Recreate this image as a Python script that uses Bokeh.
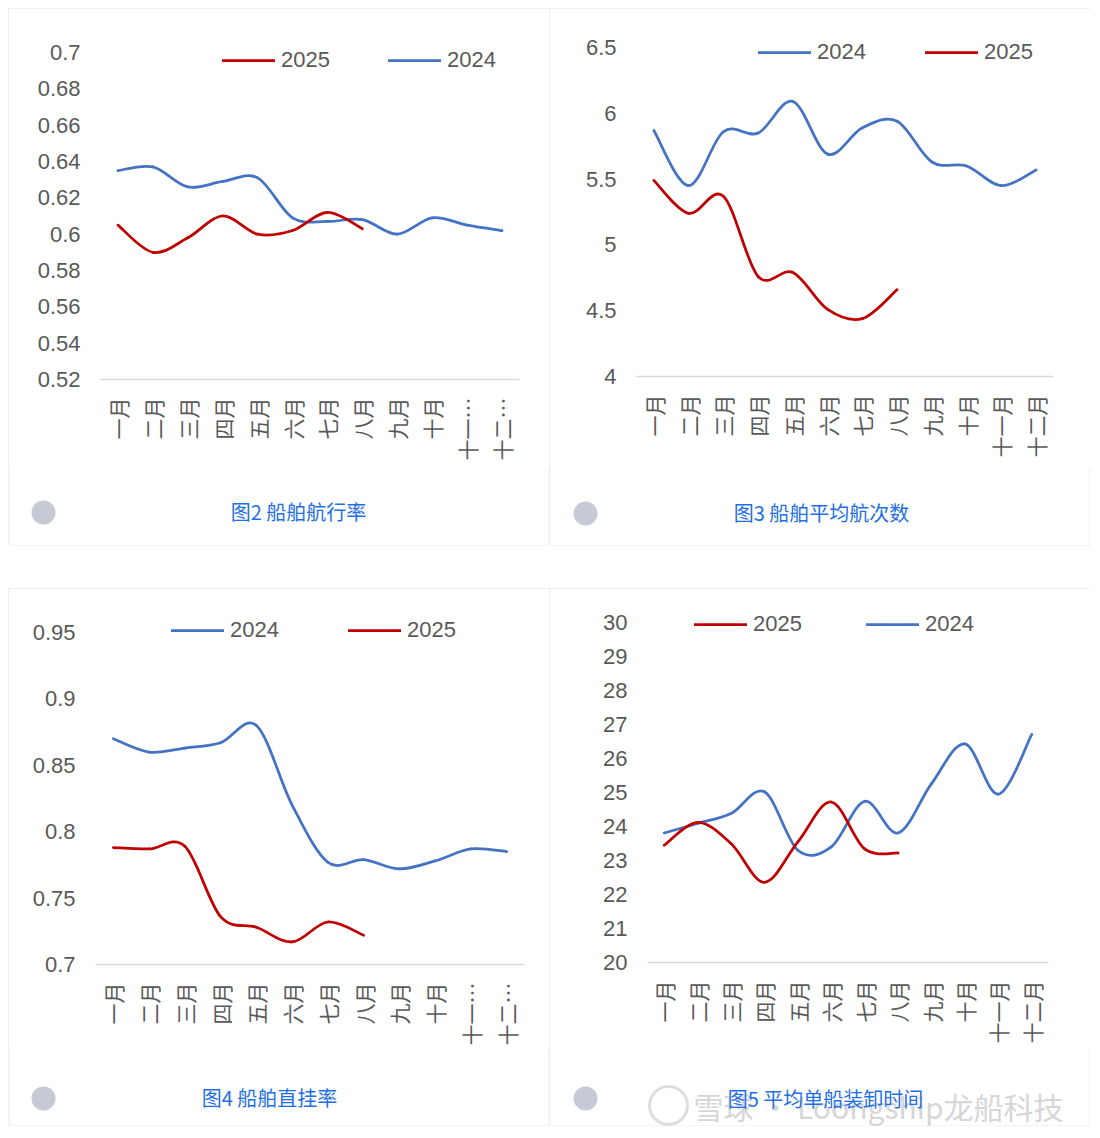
import numpy as np
from bokeh.plotting import figure
from bokeh.models import (Range1d, FixedTicker, NumeralTickFormatter, Legend, LegendItem, Spacer)
from bokeh.layouts import column, row
from bokeh.embed import file_html
from bokeh.resources import INLINE
from bokeh.core.properties import value

# ---------------- data ----------------
months_full = ["一月", "二月", "三月", "四月", "五月", "六月", "七月", "八月",
               "九月", "十月", "十一月", "十二月"]
months_cut = ["一月", "二月", "三月", "四月", "五月", "六月", "七月", "八月",
              "九月", "十月", "十一…", "十二…"]

# 图2 船舶航行率
sail_rate_2024 = [0.635, 0.637, 0.626, 0.629, 0.631, 0.609, 0.607, 0.608, 0.600, 0.609, 0.605, 0.602]
sail_rate_2025 = [0.605, 0.590, 0.598, 0.610, 0.600, 0.602, 0.612, 0.603]
sail_rate_ticks = [0.52, 0.54, 0.56, 0.58, 0.60, 0.62, 0.64, 0.66, 0.68, 0.70]

# 图3 船舶平均航次数
voyages_2024 = [5.87, 5.45, 5.86, 5.85, 6.09, 5.69, 5.89, 5.94, 5.63, 5.60, 5.45, 5.57]
voyages_2025 = [5.49, 5.24, 5.37, 4.76, 4.79, 4.51, 4.44, 4.66]
voyages_ticks = [4.0, 4.5, 5.0, 5.5, 6.0, 6.5]

# 图4 船舶直挂率
direct_2024 = [0.870, 0.860, 0.863, 0.867, 0.880, 0.820, 0.777, 0.779, 0.772, 0.778, 0.787, 0.785]
direct_2025 = [0.788, 0.787, 0.789, 0.736, 0.728, 0.717, 0.732, 0.722]
direct_ticks = [0.70, 0.75, 0.80, 0.85, 0.90, 0.95]

# 图5 平均单船装卸时间
handling_2024 = [23.81, 24.09, 24.38, 25.02, 23.30, 23.40, 24.74, 23.81, 25.26, 26.43, 24.95, 26.71]
handling_2025 = [23.45, 24.12, 23.50, 22.36, 23.55, 24.72, 23.34, 23.22]
handling_ticks = [20, 21, 22, 23, 24, 25, 26, 27, 28, 29, 30]

captions = ["图2 船舶航行率", "图3 船舶平均航次数", "图4 船舶直挂率", "图5 平均单船装卸时间"]
watermark = "雪球 · Loongship龙船科技"

BLUE = "#4472C4"
RED = "#C00000"
GREY_TXT = "#595959"
EDGE = "#e9e9e9"
CJK = "Noto Sans CJK SC"
LAT = "Liberation Sans"

PANEL_W = 541
MAIN_H = 460
CAP_H = 78
TOP_FRAME = 10  # frame top (px) so the legend sits inside the frame


def smooth(vals):
    """Bezier segments (Catmull-Rom style) through the data points."""
    y = np.asarray(vals, dtype=float)
    x = np.arange(len(y), dtype=float)
    xp = np.concatenate([[x[0]], x, [x[-1]]])
    yp = np.concatenate([[y[0]], y, [y[-1]]])
    n = len(y)
    i = np.arange(n - 1)
    cx0 = xp[i + 1] + (xp[i + 2] - xp[i]) / 6.0
    cy0 = yp[i + 1] + (yp[i + 2] - yp[i]) / 6.0
    cx1 = xp[i + 2] - (xp[i + 3] - xp[i + 1]) / 6.0
    cy1 = yp[i + 2] - (yp[i + 3] - yp[i + 1]) / 6.0
    return dict(x0=x[:-1], y0=y[:-1], x1=x[1:], y1=y[1:], cx0=cx0, cy0=cy0, cx1=cx1, cy1=cy1)


def main_fig(labels, ticks, s2024, s2025, order, frame, leg_xy, leg_spacing):
    left, right, top, bottom = frame          # frame edges in figure pixels
    fh = bottom - top
    lo, hi = ticks[0], ticks[-1]
    ext = (top - TOP_FRAME) * (hi - lo) / fh  # extra range above the top tick
    p = figure(width=PANEL_W, height=MAIN_H, x_range=Range1d(-0.5, 11.5),
               y_range=Range1d(lo, hi + ext),
               output_backend="svg", toolbar_location=None, title=None,
               min_border_left=left, min_border_right=PANEL_W - right,
               min_border_top=TOP_FRAME, min_border_bottom=MAIN_H - bottom,
               background_fill_color="white", border_fill_color="white", outline_line_color=None)
    p.grid.visible = False

    xa = p.xaxis[0]
    xa.ticker = FixedTicker(ticks=list(range(12)))
    xa.major_label_overrides = {i: lab for i, lab in enumerate(labels)}
    xa.major_label_orientation = np.pi / 2
    xa.axis_line_color = "#d9d9d9"
    xa.axis_line_width = 1.5
    xa.major_tick_line_color = None
    xa.minor_tick_line_color = None
    xa.major_tick_out = 0
    xa.major_label_standoff = 18
    xa.major_label_text_font = CJK
    xa.major_label_text_font_size = "21px"
    xa.major_label_text_color = GREY_TXT

    ya = p.yaxis[0]
    ya.ticker = FixedTicker(ticks=ticks)
    ya.formatter = NumeralTickFormatter(format="0.[00]")
    ya.axis_line_color = None
    ya.major_tick_line_color = None
    ya.minor_tick_line_color = None
    ya.major_tick_out = 0
    ya.major_label_standoff = 20
    ya.major_label_text_font = LAT
    ya.major_label_text_font_size = "22px"
    ya.major_label_text_color = GREY_TXT

    r24 = p.bezier(**smooth(s2024), line_color=BLUE, line_width=2.75, line_cap="round")
    r25 = p.bezier(**smooth(s2025), line_color=RED, line_width=2.75, line_cap="round")
    rend = {"2024": r24, "2025": r25}
    items = [LegendItem(label=k, renderers=[rend[k]]) for k in order]
    leg = Legend(items=items, location=leg_xy, orientation="horizontal",
                 glyph_width=53, glyph_height=24, label_height=24, label_standoff=6,
                 spacing=leg_spacing, padding=0, margin=0,
                 border_line_color=None, background_fill_alpha=0,
                 label_text_font=LAT, label_text_font_size="22px", label_text_color=GREY_TXT)
    p.add_layout(leg)
    return p


def cap_fig(caption, cap_xy, dot_xy, mark=False):
    # whole figure is the frame; one data unit = one pixel of the panel
    c = figure(width=PANEL_W, height=CAP_H, x_range=Range1d(0, PANEL_W), y_range=Range1d(0, CAP_H),
               output_backend="svg", toolbar_location=None, title=None,
               x_axis_location=None, y_axis_location=None, min_border=0,
               background_fill_color="white", border_fill_color="white", outline_line_color=None)
    c.grid.visible = False
    # panel edges (left, right, bottom) of the card
    c.segment(x0=[0.5, PANEL_W - 0.5, 0], y0=[0, 0, 0.5],
              x1=[0.5, PANEL_W - 0.5, PANEL_W], y1=[CAP_H, CAP_H, 0.5],
              line_color=EDGE, line_width=1)
    c.scatter(x=[dot_xy[0]], y=[dot_xy[1]], size=24, marker="circle",
              fill_color="#c5cad4", line_color=None)
    if mark:
        c.scatter(x=[119], y=[21], size=38, marker="circle", fill_alpha=0,
                  line_color="#dedede", line_width=3)
        c.text(x=[144], y=[21], text=[watermark], text_align="left", text_baseline="middle",
               text_font=value(CJK), text_font_size="30px", text_color="#d6d6d6")
    c.text(x=[cap_xy[0]], y=[cap_xy[1]], text=[caption], text_align="center",
           text_baseline="middle", text_font=value(CJK), text_font_size="20px",
           text_color="#1f6fe5")
    return c


def panel(main, cap):
    return column(main, row(cap), spacing=0,
                  styles={"outline": "1px solid " + EDGE, "outline-offset": "-1px"})


# frame edges (left, right, top, bottom) in figure pixels; legend (x, y) in frame pixels
f1 = (92, 511, 44, 371)
f2 = (87, 504, 39, 368)
f3 = (87, 516, 44, 376)
f4 = (98, 499, 34, 374)

m1 = main_fig(months_cut, sail_rate_ticks, sail_rate_2024, sail_rate_2025, ["2025", "2024"],
              f1, (122, 306), 58)
m2 = main_fig(months_full, voyages_ticks, voyages_2024, voyages_2025, ["2024", "2025"],
              f2, (122, 311), 59)
m3 = main_fig(months_cut, direct_ticks, direct_2024, direct_2025, ["2024", "2025"],
              f3, (76, 321), 69)
m4 = main_fig(months_full, handling_ticks, handling_2024, handling_2025, ["2025", "2024"],
              f4, (47, 325), 64)

c1 = cap_fig(captions[0], (290, 35), (35, 34))
c2 = cap_fig(captions[1], (272, 34), (36, 33))
c3 = cap_fig(captions[2], (261, 29), (35, 28))
c4 = cap_fig(captions[3], (276, 28), (36, 28), mark=True)

layout = column(
    Spacer(width=1090, height=8),
    row(Spacer(width=8, height=538), panel(m1, c1), panel(m2, c2)),
    Spacer(width=1090, height=42),
    row(Spacer(width=8, height=538), panel(m3, c3), panel(m4, c4)),
)
open("out.html", "w").write(file_html(layout, INLINE))
